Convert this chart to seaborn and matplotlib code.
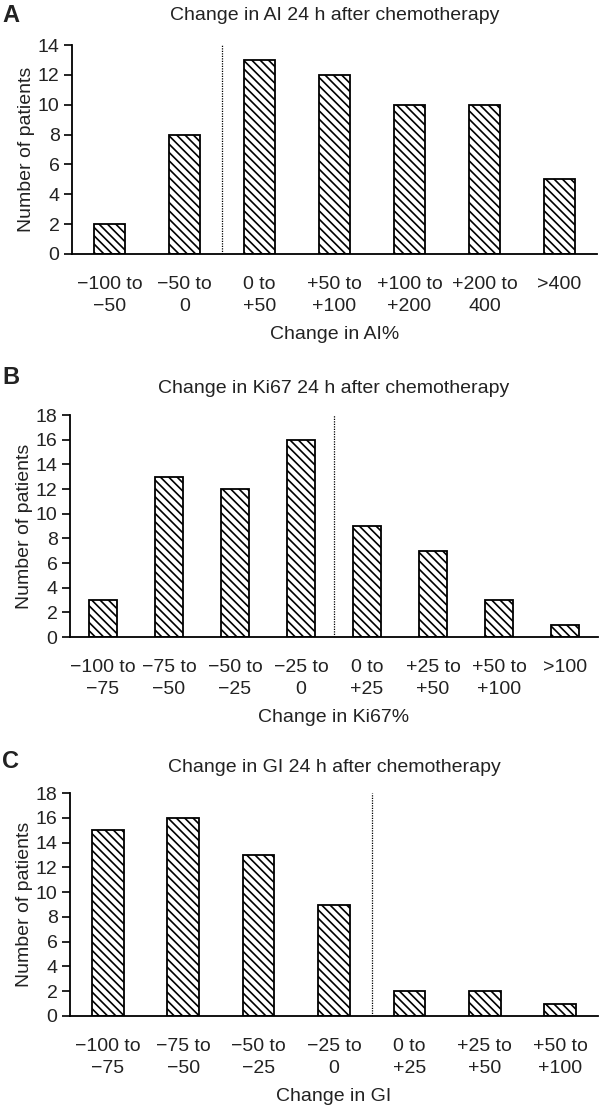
import matplotlib
matplotlib.use('Agg')
import matplotlib.pyplot as plt
import seaborn as sns
from matplotlib.ticker import MultipleLocator, FixedLocator

# Panel A: apoptotic index
ai_labels = ['\u2212100 to\n\u221250', '\u221250 to\n0', '0 to\n+50', '+50 to\n+100',
             '+100 to\n+200', '+200 to\n400', '>400']
ai_counts = [2, 8, 13, 12, 10, 10, 5]

# Panel B: Ki67
ki_labels = ['\u2212100 to\n\u221275', '\u221275 to\n\u221250', '\u221250 to\n\u221225',
             '\u221225 to\n0', '0 to\n+25', '+25 to\n+50', '+50 to\n+100', '>100']
ki_counts = [3, 13, 12, 16, 9, 7, 3, 1]

# Panel C: growth index
gi_labels = ['\u2212100 to\n\u221275', '\u221275 to\n\u221250', '\u221250 to\n\u221225',
             '\u221225 to\n0', '0 to\n+25', '+25 to\n+50', '+50 to\n+100']
gi_counts = [15, 16, 13, 9, 2, 2, 1]

sns.set_style('white')
plt.rcParams['font.family'] = ['Liberation Sans', 'DejaVu Sans']
plt.rcParams['hatch.linewidth'] = 1.2
TXT = '#222222'
FS = 14

W, H = 600, 1111
fig = plt.figure(figsize=(W / 100, H / 100), dpi=100)


def px_axes(left, right, top, bottom):
    return fig.add_axes([left / W, 1 - bottom / H, (right - left) / W, (bottom - top) / H])


panels = [
    ('A', 'Change in AI 24 h after chemotherapy', 'Change in AI%', ai_labels, ai_counts,
     14, 1.5, (72, 597, 45, 254), 15, 18),
    ('B', 'Change in Ki67 24 h after chemotherapy', 'Change in Ki67%', ki_labels, ki_counts,
     18, 3.5, (70, 598, 415, 637), 378, 16),
    ('C', 'Change in GI 24 h after chemotherapy', 'Change in GI', gi_labels, gi_counts,
     18, 3.5, (70, 598, 793, 1016), 762, 15),
]

for letter, title, xlab, labels, counts, ymax, split, box, letter_y, tpad in panels:
    ax = px_axes(*box)
    sns.barplot(x=labels, y=counts, ax=ax, width=0.42, color='white',
                edgecolor='black', linewidth=1.3, hatch='\\\\\\\\', saturation=1)
    n = len(labels)
    ax.set_xlim(-0.5, n - 0.5)
    ax.set_ylim(0, ymax)
    ax.yaxis.set_major_locator(MultipleLocator(2))
    ax.axvline(split, color='black', ls=(0, (1, 1)), lw=0.9)

    # ticks between categories, labels centred under bars
    ax.set_xticks(range(n), labels, linespacing=1.35)
    ax.xaxis.set_minor_locator(FixedLocator([i - 0.5 for i in range(n + 1)]))
    ax.tick_params(axis='x', which='major', length=0, pad=16, labelsize=FS, labelcolor=TXT)
    ax.tick_params(axis='x', which='minor', length=6, width=1.2, color='black', direction='out')
    ax.tick_params(axis='y', length=6, width=1.2, color='black', direction='out', pad=3,
                   labelsize=FS, labelcolor=TXT, left=True)

    for s in ['top', 'right']:
        ax.spines[s].set_visible(False)
    for s in ['left', 'bottom']:
        ax.spines[s].set_color('black')
        ax.spines[s].set_linewidth(1.3)

    ax.set_title(title, fontsize=FS, color=TXT, pad=tpad)
    ax.set_xlabel(xlab, fontsize=FS, color=TXT, labelpad=8)
    ax.set_ylabel('Number of patients', fontsize=FS, color=TXT, labelpad=2)
    fig.text(2 / W, 1 - letter_y / H, letter, fontsize=17, fontweight='bold',
             color=TXT, va='center', ha='left')

fig.savefig('out.png', dpi=100)
